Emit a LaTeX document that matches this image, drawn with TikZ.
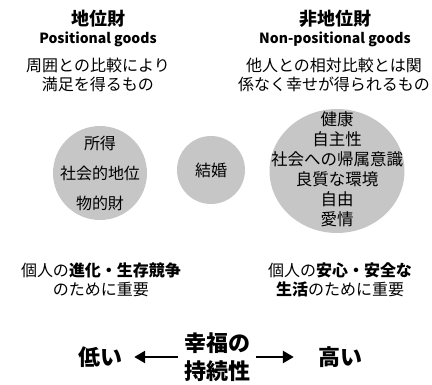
\documentclass[tikz,border=0pt]{standalone}
\usepackage{fontspec}
\setmainfont{Noto Sans CJK JP}
\usetikzlibrary{arrows.meta,shapes.geometric}
\definecolor{circgray}{RGB}{198,198,198}
\begin{document}
\begin{tikzpicture}[x=1pt,y=-1pt,
  head/.style={font=\fontsize{18}{20}\selectfont\bfseries},
  eng/.style={font=\fontsize{14}{16}\selectfont\bfseries},
  desc/.style={align=center,font=\fontsize{16}{18.5}\selectfont,inner sep=0},
  blob/.style={fill=circgray,draw=none},
  intext/.style={align=center,inner sep=0},
  big/.style={font=\fontsize{22}{28}\selectfont\bfseries,align=center,inner sep=0},
  arr/.style={line width=2.6pt,-{Triangle[length=11pt,width=12pt]}}
]
\useasboundingbox (0,0) rectangle (432,385);
% headings
\node[head] (h1) at (98,19) {地位財};
\node[eng] (e1) at (98,39) {Positional goods};
\node[desc] (d1) at (98,75) {周囲との比較により\\満足を得るもの};
\node[head] (h2) at (335,19) {非地位財};
\node[eng] (e2) at (335,39) {Non-positional goods};
\node[desc] (d2) at (334,75) {他人との相対比較とは関\\係なく幸せが得られるもの};
% circles
\node[blob,circle,minimum size=94pt,inner sep=0] (c1) at (100,173) {};
\node[intext,font=\fontsize{16}{30}\selectfont] (t1) at (c1.center) {所得\\社会的地位\\物的財};
\node[blob,circle,minimum size=68pt,inner sep=0] (c2) at (211,170) {};
\node[intext,font=\fontsize{16}{20}\selectfont] (t2) at (c2.center) {結婚};
\node[blob,ellipse,minimum width=135pt,minimum height=124pt,inner sep=0] (c3) at (337,171) {};
\node[intext,font=\fontsize{16.5}{20}\selectfont] (t3) at ([yshift=2pt]c3.center) {健康\\自主性\\社会への帰属意識\\良質な環境\\自由\\愛情};
% bottom texts
\node[desc] (b1) at (101,280) {個人の\textbf{進化・生存競争}\\のために重要};
\node[desc] (b2) at (340,280) {個人の\textbf{安心・安全な}\\\textbf{生活}のために重要};
% axis
\node[big] (mid) at (217,357) {幸福の\\持続性};
\node[big] (low) at (100,357) {低い};
\node[big] (high) at (340,357) {高い};
\draw[arr,shorten <=6pt,shorten >=12pt] (mid.west) -- (low.east);
\draw[arr,shorten <=6pt,shorten >=24pt] (mid.east) -- (high.west);
\end{tikzpicture}
\end{document}
